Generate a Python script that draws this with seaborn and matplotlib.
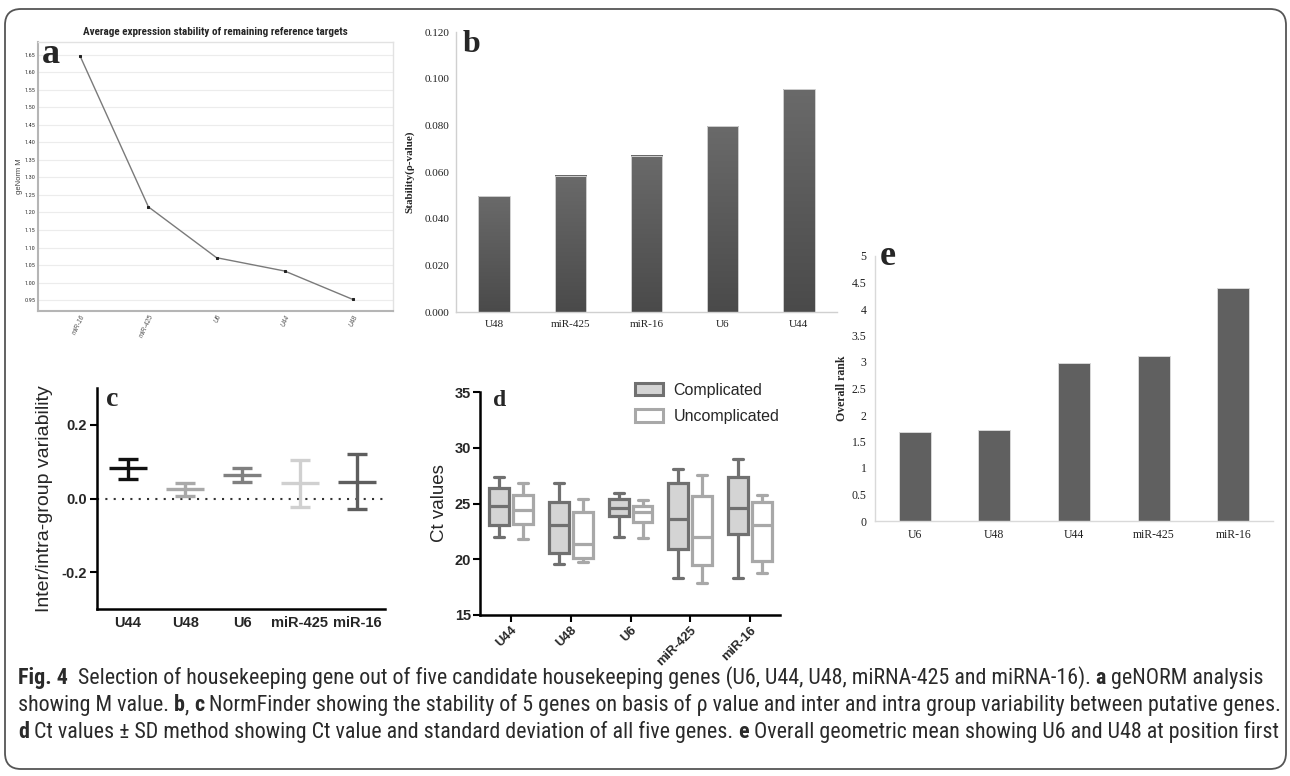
import numpy as np
import pandas as pd
import matplotlib
matplotlib.use("Agg")
import matplotlib.pyplot as plt
import seaborn as sns
from matplotlib import font_manager
from matplotlib.patches import FancyBboxPatch, Patch
from matplotlib.colors import LinearSegmentedColormap

# ---------------- data ----------------
genes_a = ["miR-16", "miR-425", "U6", "U44", "U48"]
m_values = [1.645, 1.216, 1.071, 1.033, 0.952]
a_yticks = [0.95, 1.00, 1.05, 1.10, 1.15, 1.20, 1.25, 1.30, 1.35, 1.40, 1.45, 1.50, 1.55, 1.60, 1.65]

genes_b = ["U48", "miR-425", "miR-16", "U6", "U44"]
stability = [0.0496, 0.0583, 0.0669, 0.0796, 0.0954]
b_yticks = [0.0, 0.02, 0.04, 0.06, 0.08, 0.10, 0.12]

genes_c = ["U44", "U48", "U6", "miR-425", "miR-16"]
c_mean = [0.082, 0.025, 0.065, 0.041, 0.045]
c_low = [0.054, 0.008, 0.045, -0.023, -0.028]
c_high = [0.107, 0.041, 0.083, 0.104, 0.120]
c_colors = ["#111111", "#a9a9a9", "#808080", "#d0d0d0", "#5e5e5e"]
c_yticks = [-0.2, 0.0, 0.2]

genes_d = ["U44", "U48", "U6", "miR-425", "miR-16"]
groups_d = ["Complicated", "Uncomplicated"]
comp_min = [22.0, 19.6, 22.0, 18.3, 18.3]
comp_q1 = [23.05, 20.6, 23.9, 20.9, 22.3]
comp_med = [24.8, 23.1, 24.6, 23.6, 24.6]
comp_q3 = [26.4, 25.1, 25.4, 26.8, 27.4]
comp_max = [27.4, 26.8, 25.9, 28.1, 29.0]
unc_min = [21.85, 19.75, 21.95, 17.9, 18.8]
unc_q1 = [23.2, 20.1, 23.35, 19.5, 19.85]
unc_med = [24.4, 21.4, 24.2, 22.0, 23.1]
unc_q3 = [25.75, 24.2, 24.8, 25.7, 25.1]
unc_max = [26.8, 25.4, 25.3, 27.6, 25.75]
d_yticks = [15, 20, 25, 30, 35]

genes_e = ["U6", "U48", "U44", "miR-425", "miR-16"]
overall_rank = [1.67, 1.72, 2.98, 3.12, 4.39]
e_yticks = [0, 0.5, 1, 1.5, 2, 2.5, 3, 3.5, 4, 4.5, 5]

caption_lines = [
    [("Fig. 4", True), ("  Selection of housekeeping gene out of five candidate housekeeping genes (U6, U44, U48, miRNA-425 and miRNA-16). ", False),
     ("a", True), (" geNORM analysis", False)],
    [("showing M value. ", False), ("b", True), (", ", False), ("c", True),
     (" NormFinder showing the stability of 5 genes on basis of \u03c1 value and inter and intra group variability between putative genes.", False)],
    [("d", True), (" Ct values \u00b1 SD method showing Ct value and standard deviation of all five genes. ", False), ("e", True),
     (" Overall geometric mean showing U6 and U48 at position first", False)],
]

# ---------------- setup ----------------
sns.set_theme(style="white")
plt.rcParams["font.family"] = ["Liberation Sans", "DejaVu Sans"]
installed = {f.name for f in font_manager.fontManager.ttflist}
NARROW = "Liberation Sans Narrow" if "Liberation Sans Narrow" in installed else ("Roboto Condensed" if "Roboto Condensed" in installed else "Liberation Sans")
SERIF = "Liberation Serif"
SANS = "Liberation Sans"
CAPFONT = NARROW if NARROW != "Liberation Sans" else "Open Sans"

W, H = 1290, 776
fig = plt.figure(figsize=(W / 100, H / 100), dpi=100)
fig.patch.set_facecolor("white")


def rect(x0, y0, x1, y1):
    return [x0 / W, 1 - y1 / H, (x1 - x0) / W, (y1 - y0) / H]


# ---------------- panel a ----------------
axa = fig.add_axes(rect(38, 42, 393, 311))
axa.set_facecolor("none")
xa = np.arange(len(genes_a))
sns.lineplot(x=xa, y=m_values, ax=axa, color="#7a7a7a", lw=1.0, marker="s", markersize=2,
             markerfacecolor="#222222", markeredgecolor="#222222")
axa.set_xlim(-0.62, 4.59)
axa.set_ylim(0.919, 1.686)
axa.set_yticks(a_yticks)
axa.set_yticklabels([f"{v:.2f}" for v in a_yticks], fontsize=4.5, family=NARROW, color="#333333")
axa.set_xticks(xa)
axa.set_xticklabels(genes_a, fontsize=4.8, style="italic", color="#555555", rotation=65,
                    ha="right", va="top", rotation_mode="anchor")
axa.yaxis.grid(True, color="#ececec", lw=0.8)
axa.tick_params(length=0, pad=2)
for s in ["left", "bottom"]:
    axa.spines[s].set_color("#b5b5b5")
    axa.spines[s].set_linewidth(1.5)
for s in ["top", "right"]:
    axa.spines[s].set_color("#e2e2e2")
    axa.spines[s].set_linewidth(1.0)
axa.set_ylabel("geNorm M", fontsize=5.5, color="#444444", labelpad=1)
axa.set_title("Average expression stability of remaining reference targets", fontsize=8,
              fontweight="bold", family=NARROW, pad=5)

# ---------------- panel b ----------------
axb = fig.add_axes(rect(456, 32, 837, 312))
axb.set_facecolor("none")
sns.barplot(x=genes_b, y=stability, ax=axb, color="#5a5a5a", saturation=1, width=0.41)
cmap_b = LinearSegmentedColormap.from_list("g", ["#4a4a4a", "#6a6a6a"])
grad = np.linspace(0, 1, 256).reshape(-1, 1)
for p in list(axb.patches):
    x0, y0, w, h = p.get_x(), p.get_y(), p.get_width(), p.get_height()
    axb.imshow(grad, extent=[x0, x0 + w, y0, y0 + h], aspect="auto", cmap=cmap_b,
               origin="lower", zorder=p.get_zorder() - 0.1)
    p.set_facecolor("none")
    p.set_edgecolor("#cfcfcf")
    p.set_linewidth(0.7)
axb.set_xlim(-0.5, 4.5)
axb.set_ylim(0, 0.12)
axb.set_yticks(b_yticks)
axb.set_yticklabels([f"{v:.3f}" for v in b_yticks], fontsize=8, family=SERIF, color="#222222")
axb.set_xticks(range(len(genes_b)))
axb.set_xticklabels(genes_b, fontsize=8, family=SERIF, color="#222222")
axb.tick_params(axis="y", length=3, color="#cccccc", width=0.8, pad=2)
axb.tick_params(axis="x", length=0, pad=6)
for s in ["top", "right"]:
    axb.spines[s].set_visible(False)
for s in ["left", "bottom"]:
    axb.spines[s].set_color("#d0d0d0")
    axb.spines[s].set_linewidth(1.0)
axb.set_xlabel("")
axb.set_ylabel("Stability(\u03c1-value)", fontsize=8, family=SERIF, fontweight="bold")
axb.yaxis.set_label_coords(-0.108, 0.5)

# ---------------- panel c ----------------
axc = fig.add_axes(rect(97, 388, 385, 609))
axc.set_facecolor("none")
for i, (m, lo, hi, col) in enumerate(zip(c_mean, c_low, c_high, c_colors)):
    axc.errorbar(i, m, yerr=[[m - lo], [hi - m]], fmt="_", color=col, ms=27, mew=2.4,
                 elinewidth=2.4, capsize=7, capthick=2.4)
axc.axhline(0, color="#333333", lw=1.5, ls=(0, (1, 3)), zorder=0)
axc.set_xlim(-0.54, 4.49)
axc.set_ylim(-0.3, 0.3)
axc.set_yticks(c_yticks)
axc.set_yticklabels(["-0.2", "0.0", "0.2"], fontsize=10.5, fontweight="bold")
axc.set_xticks(range(len(genes_c)))
axc.set_xticklabels(genes_c, fontsize=10.5, fontweight="bold")
axc.tick_params(axis="y", direction="out", length=5, width=1.5, color="black", left=True, pad=2)
axc.tick_params(axis="x", length=0, pad=5)
for s in ["top", "right"]:
    axc.spines[s].set_visible(False)
for s in ["left", "bottom"]:
    axc.spines[s].set_color("black")
    axc.spines[s].set_linewidth(1.8)
axc.set_ylabel("Inter/intra-group variability", fontsize=14, labelpad=6)

# ---------------- panel d ----------------
rows = []
stats = {
    "Complicated": (comp_min, comp_q1, comp_med, comp_q3, comp_max),
    "Uncomplicated": (unc_min, unc_q1, unc_med, unc_q3, unc_max),
}
for g_i, gene in enumerate(genes_d):
    for grp in groups_d:
        for arr in stats[grp]:
            rows.append({"gene": gene, "group": grp, "ct": arr[g_i]})
df_d = pd.DataFrame(rows)

axd = fig.add_axes(rect(480, 392, 780, 615))
axd.set_facecolor("none")
fills = {"Complicated": "#d4d4d4", "Uncomplicated": "#ffffff"}
edges = ["#707070", "#a8a8a8"]
sns.boxplot(data=df_d, x="gene", y="ct", hue="group", order=genes_d, hue_order=groups_d,
            palette=fills, whis=(0, 100), width=0.8, gap=0.17, linewidth=2.3,
            saturation=1, ax=axd, legend=False)
for cont, ec in zip(axd.containers, edges):
    for b in getattr(cont, "boxes", []):
        b.set_edgecolor(ec)
    for attr in ["whiskers", "caps", "medians"]:
        for ln in getattr(cont, attr, []):
            ln.set_color(ec)
axd.set_xlim(-0.52, 4.5)
axd.set_ylim(15, 35)
axd.set_yticks(d_yticks)
axd.set_yticklabels([str(v) for v in d_yticks], fontsize=10.5, fontweight="bold")
axd.set_xticks(range(len(genes_d)))
axd.set_xticklabels(genes_d, fontsize=9.3, fontweight="bold", rotation=45, ha="right",
                    va="top", rotation_mode="anchor")
axd.tick_params(axis="both", direction="out", length=5, width=1.5, color="black",
                left=True, bottom=True, pad=1.5)
for s in ["top", "right"]:
    axd.spines[s].set_visible(False)
for s in ["left", "bottom"]:
    axd.spines[s].set_color("black")
    axd.spines[s].set_linewidth(1.8)
axd.set_xlabel("")
axd.set_ylabel("Ct values", fontsize=13.5, labelpad=5)
handles = [Patch(facecolor="#d4d4d4", edgecolor="#707070", lw=2.2, label="Complicated"),
           Patch(facecolor="#ffffff", edgecolor="#a8a8a8", lw=2.2, label="Uncomplicated")]
axd.legend(handles=handles, loc="upper right", bbox_to_anchor=(1.02, 1.07), frameon=False,
           fontsize=11.5, handlelength=1.7, handleheight=0.8, labelspacing=0.7,
           handletextpad=0.7, borderaxespad=0)

# ---------------- panel e ----------------
axe = fig.add_axes(rect(875, 256, 1273, 521))
axe.set_facecolor("none")
sns.barplot(x=genes_e, y=overall_rank, ax=axe, color="#606060", saturation=1, width=0.4,
            edgecolor="#d8d8d8", linewidth=0.7)
axe.set_xlim(-0.5, 4.5)
axe.set_ylim(0, 5)
axe.set_yticks(e_yticks)
axe.set_yticklabels([f"{v:g}" for v in e_yticks], fontsize=8.5, family=SERIF, color="#222222")
axe.set_xticks(range(len(genes_e)))
axe.set_xticklabels(genes_e, fontsize=8.5, family=SERIF, color="#222222")
axe.tick_params(axis="y", length=3, color="#d0d0d0", width=0.8, pad=3)
axe.tick_params(axis="x", length=0, pad=6)
for s in ["top", "right"]:
    axe.spines[s].set_visible(False)
for s in ["left", "bottom"]:
    axe.spines[s].set_color("#d9d9d9")
    axe.spines[s].set_linewidth(1.0)
axe.set_xlabel("")
axe.set_ylabel("Overall rank", fontsize=8.5, family=SERIF, fontweight="bold")
axe.yaxis.set_label_coords(-0.068, 0.5)

# ---------------- overlay: border, letters, caption ----------------
ov = fig.add_axes([0, 0, 1, 1], zorder=10)
ov.set_xlim(0, W)
ov.set_ylim(H, 0)
ov.axis("off")
ov.patch.set_alpha(0)
ov.add_patch(FancyBboxPatch((5, 9), 1281, 760, boxstyle="round,pad=0,rounding_size=16",
                            fill=False, edgecolor="#555555", lw=1.3))
for letter, x, y, sz in [("a", 42, 63, 26), ("b", 463, 52, 23), ("c", 106, 406, 20),
                         ("d", 493, 406, 17), ("e", 880, 265, 26)]:
    ov.text(x, y, letter, fontsize=sz, fontweight="bold", family=SERIF, va="baseline", ha="left")

renderer = fig.canvas.get_renderer()


def draw_caption_line(segs, x0, y, size):
    texts = []
    x = x0
    for s, bold in segs:
        t = ov.text(x, y, s, fontsize=size, fontweight="bold" if bold else "normal",
                    family=CAPFONT, va="baseline", ha="left", color="#2a2a2a")
        bb = t.get_window_extent(renderer)
        x += bb.width
        texts.append(t)
    return texts, x - x0


tmp, wid = draw_caption_line(caption_lines[1], 18, 709, 12)
for t in tmp:
    t.remove()
cap_size = 12 * 1265 / wid
for segs, yb in zip(caption_lines, [684, 711, 738]):
    draw_caption_line(segs, 18, yb, cap_size)

fig.savefig("out.png", dpi=100, facecolor="white")
